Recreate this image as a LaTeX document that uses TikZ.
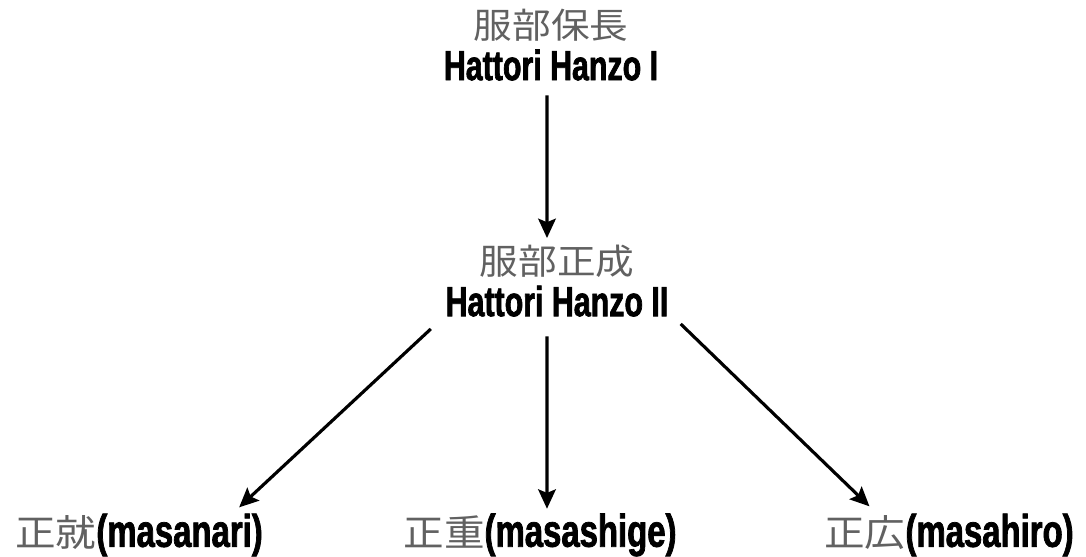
\documentclass[tikz,border=0pt]{standalone}
\usepackage{fontspec}
\usepackage{xcolor}
\usepackage{tikz}
\usetikzlibrary{arrows.meta, positioning, calc}
\newfontfamily\jp{Noto Sans CJK JP}[FakeStretch=1.1]
\newfontfamily\hz{Liberation Sans}[FakeStretch=0.72, FakeBold=1.6]
\definecolor{kanjigray}{gray}{0.38}

\begin{document}
\begin{tikzpicture}[x=0.02cm, y=-0.02cm,
    every node/.style={align=center, inner sep=4pt},
    gen/.style={font=\fontsize{20}{23.5}\selectfont},
    kid/.style={font=\fontsize{21}{24}\selectfont},
    line/.style={-{Stealth[length=11pt, width=10pt, inset=2pt]}, line width=1.8pt}]
  \useasboundingbox (0,0) rectangle (1086,557);
  % generations
  \node[gen] (hanzoI) at (551,45) {{\jp\color{kanjigray}服部保長}\\{\hz\fontsize{24}{24}\selectfont\bfseries Hattori Hanzo I}};
  \node[gen] (hanzoII) at (557,281) {{\jp\color{kanjigray}服部正成}\\{\hz\fontsize{24}{24}\selectfont\bfseries Hattori Hanzo II}};
  \node[kid] (masanari) at (139,535) {{\jp\color{kanjigray}正就}{\hz\fontsize{26}{24}\selectfont\bfseries(masanari)}};
  \node[kid] (masashige) at (540,535) {{\jp\color{kanjigray}正重}{\hz\fontsize{26}{24}\selectfont\bfseries(masashige)}};
  \node[kid] (masahiro) at (949,535) {{\jp\color{kanjigray}正広}{\hz\fontsize{26}{24}\selectfont\bfseries(masahiro)}};
  % arrows
  \draw[line, shorten <=0.15cm] ([xshift=-0.08cm]hanzoI.south) -- ([xshift=-0.2cm]hanzoII.north);
  \draw[line] ([xshift=-0.15cm, yshift=-0.1cm]hanzoII.south west) -- ([xshift=-0.62cm, yshift=-0.02cm]masanari.north east);
  \draw[line, shorten <=0.25cm] ([xshift=-0.2cm]hanzoII.south) -- ([xshift=0.14cm, yshift=-0.05cm]masashige.north);
  \draw[line] ([xshift=0.1cm]hanzoII.south east) -- ([xshift=1.05cm]masahiro.north west);
\end{tikzpicture}
\end{document}
